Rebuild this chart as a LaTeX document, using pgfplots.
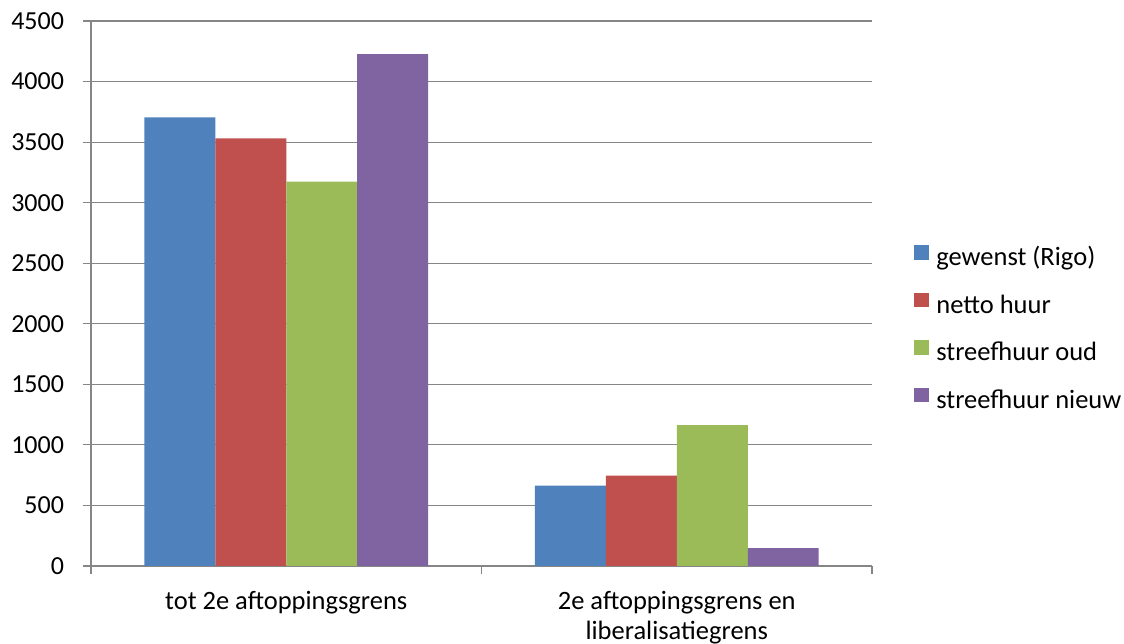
\documentclass[border=0pt]{standalone}
\usepackage{pgfplots}
\pgfplotsset{compat=1.18}
\usepackage{fontspec}
\setmainfont{Carlito}
\definecolor{cblue}{HTML}{4F81BD}
\definecolor{cred}{HTML}{C0504D}
\definecolor{cgreen}{HTML}{9BBB59}
\definecolor{cpurple}{HTML}{8064A2}
\definecolor{gridgray}{HTML}{868686}
\begin{document}
\fontsize{26.5}{30}\selectfont
\begin{tikzpicture}
\useasboundingbox (0,0) rectangle (1124pt,644pt);
\begin{axis}[
    at={(91pt,78pt)}, anchor=south west,
    scale only axis,
    width=781pt, height=545pt,
    xmin=-0.5, xmax=1.5,
    ymin=0, ymax=4500,
    ytick={0,500,...,4500},
    axis x line*=bottom,
    axis y line*=left,
    axis line style={draw=gridgray, line width=1.2pt},
    ymajorgrids,
    grid style={draw=gridgray, line width=1.2pt},
    tick style={draw=gridgray, line width=1.2pt},
    major tick length=8pt,
    tick align=outside,
    xtick={-0.5,0.5,1.5},
    xticklabels={},
    extra x ticks={0,1},
    extra x tick labels={tot 2e aftoppingsgrens, {2e aftoppingsgrens en\\liberalisatiegrens}},
    extra x tick style={major tick length=0pt, grid=none,
        tick label style={align=center, yshift=-16pt}},
    tick label style={font=\fontsize{26.5}{30}\selectfont,
        /pgf/number format/assume math mode=true},
    yticklabel style={/pgf/number format/1000 sep={}, xshift=-10pt,
        font=\fontsize{26}{30}\selectfont},
    ybar,
    bar width=0.1818,
    legend cell align=left,
    legend style={
        at={(1.054,0.589)}, anchor=north west,
        draw=none, fill=none, inner sep=0pt,
        font=\fontsize{26.5}{30}\selectfont,
        nodes={inner sep=0pt, text height=18pt, text depth=6pt},
        row sep=21pt,
        /tikz/every odd column/.append style={column sep=7pt},
    },
    legend image code/.code={\fill[#1] (0pt,0pt) rectangle (15pt,14.5pt);},
]
\addplot+[draw=none, fill=cblue, bar shift=-0.2727]
    coordinates {(0,3705) (1,664)};
\addplot+[draw=none, fill=cred, bar shift=-0.0909]
    coordinates {(0,3531) (1,747)};
\addplot+[draw=none, fill=cgreen, bar shift=0.0909]
    coordinates {(0,3174) (1,1164)};
\addplot+[draw=none, fill=cpurple, bar shift=0.2727]
    coordinates {(0,4227) (1,147)};
\legend{gewenst (Rigo), netto huur, streefhuur oud, streefhuur nieuw}
\end{axis}
\end{tikzpicture}
\end{document}
